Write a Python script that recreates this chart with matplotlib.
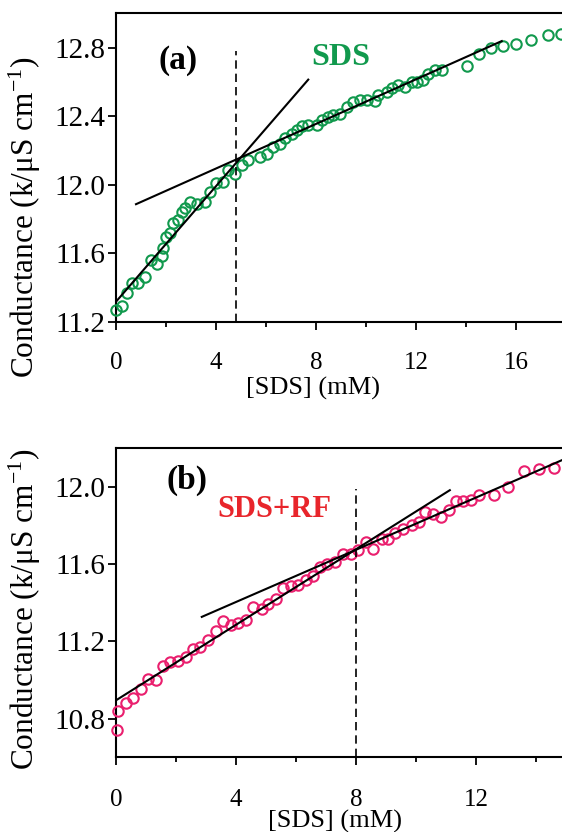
import matplotlib
matplotlib.use("Agg")
import matplotlib.pyplot as plt
from matplotlib.ticker import MultipleLocator

plt.rcParams['font.family'] = ['Liberation Serif', 'DejaVu Serif']
plt.rcParams['mathtext.fontset'] = 'custom'
plt.rcParams['mathtext.rm'] = 'Liberation Serif'
plt.rcParams['mathtext.it'] = 'Liberation Serif:italic'

# (a) SDS alone: conductance vs [SDS]
sds_a = [0.0, 0.23, 0.43, 0.63, 0.89, 1.16, 1.39, 1.65, 1.83, 1.87, 2.0, 2.16,
         2.27, 2.49, 2.63, 2.76, 2.96, 3.23, 3.56, 3.76, 4.0, 4.27, 4.49, 4.76,
         5.03, 5.29, 5.76, 6.03, 6.29, 6.56, 6.76, 7.03, 7.23, 7.43, 7.69, 8.03,
         8.23, 8.49, 8.69, 8.96, 9.23, 9.49, 9.76, 10.03, 10.36, 10.49, 10.83,
         11.03, 11.29, 11.56, 11.83, 12.03, 12.29, 12.49, 12.76, 13.03, 14.03,
         14.53, 14.99, 15.49, 16.0, 16.59, 17.29, 17.8]
cond_a = [11.268, 11.291, 11.365, 11.427, 11.427, 11.462, 11.563, 11.536,
          11.583, 11.633, 11.696, 11.715, 11.777, 11.793, 11.841, 11.861,
          11.898, 11.890, 11.900, 11.958, 12.010, 12.016, 12.084, 12.065,
          12.113, 12.143, 12.162, 12.181, 12.220, 12.240, 12.275, 12.298,
          12.321, 12.341, 12.347, 12.347, 12.380, 12.395, 12.405, 12.415,
          12.454, 12.483, 12.493, 12.496, 12.489, 12.522, 12.541, 12.564,
          12.580, 12.570, 12.599, 12.599, 12.609, 12.648, 12.667, 12.667,
          12.691, 12.761, 12.800, 12.807, 12.823, 12.846, 12.872, 12.881]

# linear fits below / above the break
pre_a_x = [0.0, 7.69]
pre_a_y = [11.317, 12.613]
post_a_x = [0.8, 15.43]
post_a_y = [11.886, 12.838]
cmc_a = 4.8

# (b) SDS + RF
sds_b = [0.02, 0.08, 0.33, 0.58, 0.82, 1.08, 1.33, 1.56, 1.8, 2.08, 2.33,
         2.56, 2.8, 3.08, 3.33, 3.58, 3.82, 4.08, 4.33, 4.58, 4.86, 5.08,
         5.33, 5.56, 5.82, 6.08, 6.33, 6.56, 6.8, 7.04, 7.3, 7.56, 7.82, 8.08,
         8.33, 8.58, 8.86, 9.08, 9.3, 9.58, 9.86, 10.11, 10.3, 10.58, 10.82,
         11.11, 11.33, 11.58, 11.82, 12.11, 12.6, 13.08, 13.6, 14.11, 14.6]
cond_b = [10.743, 10.840, 10.881, 10.909, 10.955, 11.007, 11.002, 11.071,
          11.094, 11.099, 11.119, 11.163, 11.171, 11.206, 11.254, 11.306,
          11.283, 11.296, 11.313, 11.378, 11.370, 11.392, 11.422, 11.479,
          11.485, 11.491, 11.517, 11.537, 11.586, 11.599, 11.611, 11.655,
          11.651, 11.675, 11.715, 11.681, 11.732, 11.732, 11.762, 11.784,
          11.801, 11.819, 11.870, 11.858, 11.845, 11.883, 11.927, 11.927,
          11.934, 11.957, 11.957, 12.000, 12.083, 12.095, 12.100]

pre_b_x = [0.0, 11.13]
pre_b_y = [10.895, 11.983]
post_b_x = [2.86, 14.86]
post_b_y = [11.327, 12.138]
cmc_b = 8.0

green = '#11994d'
pink = '#ea1f6e'
red = '#e8252b'

fig = plt.figure(figsize=(5.62, 8.32), dpi=100)
ax1 = fig.add_axes([0.2064, 0.6133, 0.7936, 0.3707])
ax2 = fig.add_axes([0.2064, 0.0898, 0.7936, 0.3714])


def style_axes(ax, xmax, ylim, xpad):
    ax.set_xlim(0, xmax)
    ax.set_ylim(*ylim)
    ax.spines['right'].set_visible(False)
    for s in ['left', 'bottom', 'top']:
        ax.spines[s].set_linewidth(1.5)
    ax.xaxis.set_major_locator(MultipleLocator(4))
    ax.xaxis.set_minor_locator(MultipleLocator(2))
    ax.yaxis.set_major_locator(MultipleLocator(0.4))
    ax.yaxis.set_major_formatter(plt.FormatStrFormatter('%.1f'))
    ax.tick_params(axis='x', which='major', direction='out', length=5.5,
                   width=1.3, labelsize=18, pad=xpad)
    ax.tick_params(axis='x', which='minor', direction='out', length=3.5,
                   width=1.3)
    ax.tick_params(axis='y', which='major', direction='out', length=5.5,
                   width=1.3, labelsize=21, pad=2)
    ax.set_xlabel('[SDS] (mM)', fontsize=19)
    ax.set_ylabel(r'Conductance (k/μS cm$^{-1}$)', fontsize=22.5)


style_axes(ax1, 17.84, (11.2, 13.0), 16)
ax1.plot(sds_a, cond_a, 'o', mfc='none', mec=green, mew=1.5, ms=7.5,
         clip_on=False, zorder=3)
ax1.plot(pre_a_x, pre_a_y, color='black', lw=1.5, zorder=4)
ax1.plot(post_a_x, post_a_y, color='black', lw=1.5, zorder=4)
ax1.plot([cmc_a, cmc_a], [11.2, 12.78], color='black', lw=1.2,
         linestyle=(0, (5, 3)), zorder=4)
ax1.text(2.49, 12.678, '(a)', fontsize=24, fontweight='bold',
         ha='center', va='baseline')
ax1.text(8.99, 12.697, 'SDS', fontsize=23, fontweight='bold', color=green,
         ha='center', va='baseline')
ax1.xaxis.set_label_coords(0.4417, -0.18)
ax1.yaxis.set_label_coords(-0.163, 0.3395)

style_axes(ax2, 14.87, (10.6, 12.2), 17)
ax2.plot(sds_b, cond_b, 'o', mfc='none', mec=pink, mew=1.5, ms=7.5,
         clip_on=False, zorder=3)
ax2.plot(pre_b_x, pre_b_y, color='black', lw=1.5, zorder=4)
ax2.plot(post_b_x, post_b_y, color='black', lw=1.5, zorder=4)
ax2.plot([cmc_b, cmc_b], [10.6, 11.99], color='black', lw=1.2,
         linestyle=(0, (5, 3)), zorder=4)
ax2.text(2.38, 11.992, '(b)', fontsize=24, fontweight='bold',
         ha='center', va='baseline')
ax2.text(5.27, 11.845, 'SDS+RF', fontsize=22, fontweight='bold', color=red,
         ha='center', va='baseline')
ax2.xaxis.set_label_coords(0.491, -0.1706)
ax2.yaxis.set_label_coords(-0.163, 0.48)

fig.savefig('out.png', dpi=100)
